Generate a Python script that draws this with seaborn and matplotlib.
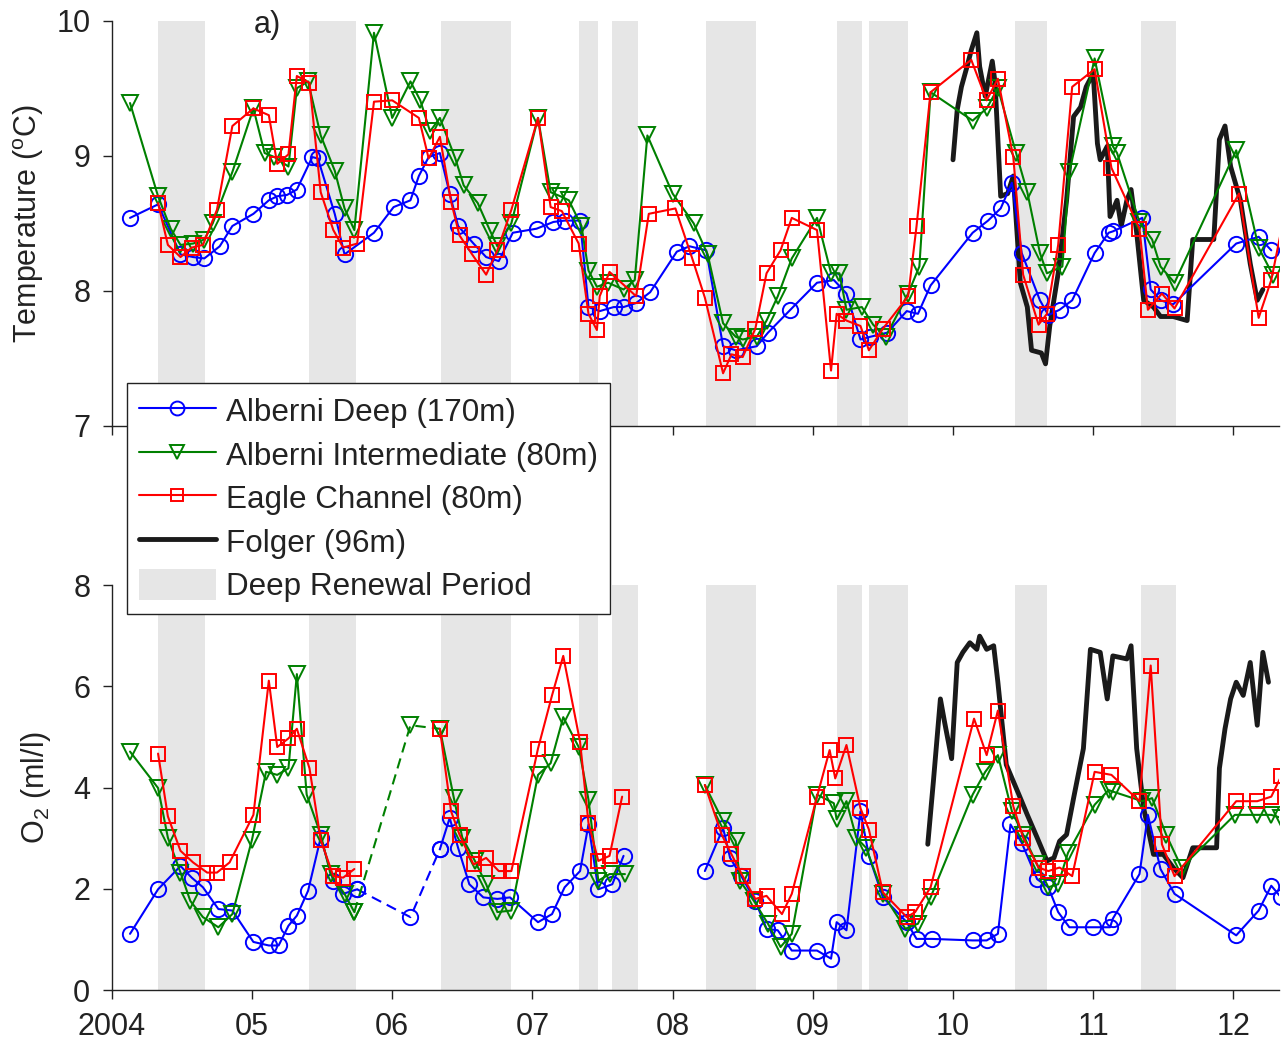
import numpy as np
import matplotlib
matplotlib.use('Agg')
import matplotlib.pyplot as plt
import seaborn as sns
from matplotlib.lines import Line2D
from matplotlib.patches import Patch

# --- 데이터 ---
# 깊은 수 교체 기간 (연도 소수)
RENEWAL_START = [2004.33, 2005.41, 2006.35, 2007.33, 2007.57, 2008.24, 2009.17, 2009.40, 2010.44, 2011.34]
RENEWAL_END = [2004.665, 2005.74, 2006.85, 2007.47, 2007.75, 2008.595, 2009.35, 2009.68, 2010.67, 2011.59]

# 수온 (top panel)
T_DEEP_YR = [2004.13, 2004.33, 2004.49, 2004.58, 2004.66, 2004.77, 2004.86,
             2005.01, 2005.12, 2005.18, 2005.25, 2005.32, 2005.43, 2005.47, 2005.59, 2005.66, 2005.87,
             2006.01, 2006.13, 2006.19, 2006.26, 2006.34, 2006.41, 2006.47, 2006.58, 2006.67, 2006.76, 2006.86,
             2007.03, 2007.15, 2007.23, 2007.34, 2007.40, 2007.48, 2007.58, 2007.65, 2007.74, 2007.84,
             2008.03, 2008.12, 2008.24, 2008.36, 2008.45, 2008.60, 2008.68, 2008.84,
             2009.03, 2009.15, 2009.24, 2009.34, 2009.41, 2009.53, 2009.67, 2009.75, 2009.84,
             2010.14, 2010.25, 2010.34, 2010.42, 2010.49, 2010.62, 2010.68, 2010.76, 2010.85,
             2011.01, 2011.11, 2011.14, 2011.35, 2011.41, 2011.48, 2011.57,
             2012.02, 2012.18, 2012.27]
T_DEEP = [8.54, 8.64, 8.27, 8.25, 8.24, 8.33, 8.48,
          8.57, 8.67, 8.70, 8.71, 8.75, 8.99, 8.98, 8.57, 8.27, 8.43,
          8.62, 8.67, 8.85, 8.99, 9.02, 8.72, 8.48, 8.35, 8.25, 8.22, 8.43,
          8.46, 8.51, 8.52, 8.52, 7.88, 7.85, 7.88, 7.88, 7.91, 7.99,
          8.29, 8.33, 8.30, 7.59, 7.56, 7.59, 7.69, 7.86,
          8.06, 8.08, 7.98, 7.64, 7.66, 7.69, 7.85, 7.83, 8.04,
          8.43, 8.52, 8.61, 8.80, 8.28, 7.93, 7.82, 7.86, 7.93,
          8.28, 8.43, 8.44, 8.54, 8.01, 7.93, 7.90,
          8.35, 8.40, 8.30]

T_INT_YR = [2004.13, 2004.33, 2004.42, 2004.49, 2004.58, 2004.66, 2004.72, 2004.86,
            2005.01, 2005.09, 2005.16, 2005.26, 2005.32, 2005.40, 2005.49, 2005.59, 2005.66, 2005.73, 2005.87,
            2006.00, 2006.13, 2006.20, 2006.27, 2006.34, 2006.45, 2006.51, 2006.61, 2006.70, 2006.75, 2006.85,
            2007.04, 2007.13, 2007.20, 2007.26, 2007.35, 2007.40, 2007.46, 2007.54, 2007.65, 2007.73, 2007.82,
            2008.00, 2008.15, 2008.25, 2008.36, 2008.45, 2008.50, 2008.60, 2008.67, 2008.75, 2008.85,
            2009.03, 2009.13, 2009.19, 2009.24, 2009.35, 2009.43, 2009.52, 2009.68, 2009.76, 2009.84,
            2010.14, 2010.24, 2010.32, 2010.45, 2010.53, 2010.62, 2010.67, 2010.78, 2010.83,
            2011.01, 2011.14, 2011.17, 2011.33, 2011.42, 2011.48, 2011.58,
            2012.02, 2012.18, 2012.28]
T_INT = [9.39, 8.70, 8.46, 8.34, 8.35, 8.38, 8.50, 8.88,
         9.35, 9.02, 8.99, 8.92, 9.50, 9.55, 9.15, 8.89, 8.61, 8.45, 9.91,
         9.28, 9.55, 9.41, 9.18, 9.28, 8.98, 8.78, 8.65, 8.44, 8.33, 8.50,
         9.28, 8.73, 8.70, 8.67, 8.48, 8.15, 8.03, 8.06, 8.01, 8.08, 9.15,
         8.72, 8.50, 8.27, 7.76, 7.66, 7.64, 7.66, 7.78, 7.96, 8.24,
         8.54, 8.13, 8.13, 7.86, 7.88, 7.75, 7.66, 7.98, 8.18, 9.47,
         9.26, 9.35, 9.50, 9.02, 8.73, 8.28, 8.13, 8.18, 8.88,
         9.72, 9.07, 9.02, 8.51, 8.38, 8.18, 8.06,
         9.04, 8.32, 8.12]

T_EAGLE_YR = [2004.33, 2004.40, 2004.49, 2004.57, 2004.65, 2004.75, 2004.86,
              2005.01, 2005.12, 2005.18, 2005.26, 2005.32, 2005.41, 2005.49, 2005.58, 2005.65, 2005.75, 2005.87,
              2006.00, 2006.19, 2006.26, 2006.34, 2006.42, 2006.48, 2006.57, 2006.67, 2006.75, 2006.85,
              2007.04, 2007.13, 2007.21, 2007.33, 2007.40, 2007.46, 2007.48, 2007.55, 2007.74, 2007.83,
              2008.02, 2008.14, 2008.23, 2008.36, 2008.42, 2008.50, 2008.59, 2008.67, 2008.77, 2008.85,
              2009.03, 2009.13, 2009.17, 2009.24, 2009.34, 2009.40, 2009.50, 2009.68, 2009.74, 2009.84,
              2010.13, 2010.24, 2010.32, 2010.43, 2010.50, 2010.61, 2010.67, 2010.75, 2010.85,
              2011.01, 2011.13, 2011.33, 2011.39, 2011.49, 2011.58,
              2012.04, 2012.18, 2012.27, 2012.40]
T_EAGLE = [8.65, 8.34, 8.25, 8.32, 8.34, 8.60, 9.22,
           9.35, 9.30, 8.94, 9.01, 9.59, 9.54, 8.73, 8.45, 8.32, 8.35, 9.40,
           9.41, 9.28, 8.98, 9.14, 8.66, 8.41, 8.27, 8.12, 8.30, 8.60,
           9.28, 8.62, 8.59, 8.35, 7.83, 7.71, 7.96, 8.14, 7.96, 8.57,
           8.61, 8.24, 7.95, 7.39, 7.53, 7.51, 7.72, 8.13, 8.30, 8.54,
           8.45, 7.41, 7.83, 7.78, 7.74, 7.56, 7.72, 7.96, 8.48, 9.47,
           9.71, 9.41, 9.57, 8.99, 8.12, 7.75, 7.83, 8.34, 9.51,
           9.64, 8.91, 8.46, 7.86, 7.98, 7.87,
           8.72, 7.80, 8.08, 8.75]

T_FOLGER_YR = [2010.00, 2010.03, 2010.06, 2010.10, 2010.13, 2010.17, 2010.19, 2010.23, 2010.28, 2010.30,
               2010.34, 2010.39, 2010.43, 2010.48, 2010.53, 2010.56, 2010.63, 2010.66, 2010.69, 2010.75,
               2010.81, 2010.86, 2010.91, 2010.95,
               2011.00, 2011.03, 2011.05, 2011.10, 2011.12, 2011.17, 2011.20, 2011.24, 2011.27, 2011.31,
               2011.36, 2011.43, 2011.48, 2011.57, 2011.67, 2011.71, 2011.86, 2011.90, 2011.94, 2011.98,
               2012.05, 2012.12, 2012.17, 2012.21]
T_FOLGER = [8.97, 9.34, 9.51, 9.66, 9.78, 9.91, 9.66, 9.44, 9.70, 9.54,
            8.70, 8.72, 8.85, 8.06, 7.88, 7.56, 7.54, 7.46, 7.74, 8.13,
            8.67, 9.29, 9.36, 9.51,
            9.61, 9.09, 8.97, 9.07, 8.55, 8.67, 8.48, 8.67, 8.75, 8.43,
            7.93, 7.88, 7.81, 7.81, 7.78, 8.38, 8.38, 9.12, 9.22, 8.92,
            8.67, 8.20, 7.93, 8.01]

# 용존 산소 (bottom panel), nan = 자료 없음
nan = np.nan
O2_DEEP_YR = [2004.13, 2004.33, 2004.49, 2004.57, 2004.65, 2004.76, 2004.86,
              2005.01, 2005.12, 2005.19, 2005.26, 2005.32, 2005.40, 2005.49, 2005.58, 2005.65, 2005.75,
              2006.13, 2006.34, 2006.41, 2006.47, 2006.55, 2006.65, 2006.75, 2006.84,
              2007.04, 2007.14, 2007.23, 2007.34, 2007.40, 2007.47, 2007.57, 2007.65, nan,
              2008.23, 2008.36, 2008.41, 2008.49, 2008.59, 2008.67, 2008.75, 2008.85,
              2009.03, 2009.13, 2009.17, 2009.24, 2009.34, 2009.40, 2009.50, 2009.67, 2009.74, 2009.85,
              2010.14, 2010.24, 2010.32, 2010.41, 2010.49, 2010.60, 2010.68, 2010.75, 2010.83,
              2011.00, 2011.12, 2011.14, 2011.33, 2011.39, 2011.48, 2011.58,
              2012.02, 2012.18, 2012.27, 2012.34]
O2_DEEP = [1.11, 1.99, 2.45, 2.22, 2.03, 1.60, 1.57,
           0.95, 0.88, 0.88, 1.27, 1.47, 1.96, 3.01, 2.16, 1.90, 1.99,
           1.44, 2.78, 3.40, 2.81, 2.09, 1.83, 1.80, 1.83,
           1.34, 1.50, 2.03, 2.35, 3.27, 1.99, 2.09, 2.65, nan,
           2.35, 3.20, 2.61, 2.25, 1.76, 1.21, 1.18, 0.78,
           0.78, 0.62, 1.34, 1.18, 3.53, 2.65, 1.83, 1.34, 1.01, 1.01,
           0.98, 0.98, 1.11, 3.27, 2.91, 2.19, 2.03, 1.54, 1.24,
           1.24, 1.24, 1.41, 2.29, 3.46, 2.39, 1.90,
           1.08, 1.57, 2.06, 1.83]

O2_INT_YR = [2004.13, 2004.33, 2004.40, 2004.49, 2004.56, 2004.65, 2004.76, 2004.86,
             2005.00, 2005.10, 2005.18, 2005.26, 2005.32, 2005.39, 2005.49, 2005.56, 2005.66, 2005.73,
             2006.13, 2006.34, 2006.44, 2006.50, 2006.59, 2006.67, 2006.75, 2006.85,
             2007.04, 2007.13, 2007.22, 2007.33, 2007.40, 2007.47, 2007.55, 2007.66, nan,
             2008.23, 2008.36, 2008.45, 2008.48, 2008.58, 2008.68, 2008.77, 2008.85,
             2009.03, 2009.15, 2009.17, 2009.24, 2009.31, 2009.38, 2009.50, 2009.66, 2009.75, 2009.84,
             2010.14, 2010.23, 2010.32, 2010.42, 2010.50, 2010.60, 2010.68, 2010.75, 2010.82,
             2011.01, 2011.11, 2011.14, 2011.35, 2011.42, 2011.52, 2011.63,
             2012.01, 2012.17, 2012.27, 2012.34]
O2_INT = [4.71, 3.99, 3.01, 2.32, 1.76, 1.44, 1.24, 1.50,
          2.97, 4.31, 4.25, 4.38, 6.24, 3.86, 3.07, 2.29, 1.90, 1.54,
          5.23, 5.16, 3.79, 3.01, 2.55, 2.09, 1.54, 1.57,
          4.25, 4.48, 5.39, 4.80, 3.76, 2.16, 2.29, 2.29, nan,
          4.05, 3.33, 2.94, 2.16, 1.76, 1.31, 0.85, 1.11,
          3.86, 3.69, 3.37, 3.73, 3.01, 2.81, 1.90, 1.21, 1.31, 1.83,
          3.86, 4.31, 4.64, 3.53, 3.07, 2.48, 2.03, 2.09, 2.71,
          3.66, 3.95, 3.92, 3.73, 3.79, 3.07, 2.42,
          3.46, 3.46, 3.46, 3.40]

O2_EAGLE_YR = [2004.33, 2004.40, 2004.49, 2004.58, 2004.68, 2004.75, 2004.84,
               2005.01, 2005.12, 2005.18, 2005.26, 2005.32, 2005.41, 2005.49, 2005.58, 2005.65, 2005.73, nan,
               2006.34, 2006.42, 2006.48, 2006.58, 2006.67, 2006.76, 2006.85,
               2007.04, 2007.14, 2007.22, 2007.34, 2007.40, 2007.47, 2007.55, 2007.64, nan,
               2008.23, 2008.35, 2008.42, 2008.50, 2008.59, 2008.67, 2008.78, 2008.85,
               2009.03, 2009.12, 2009.16, 2009.24, 2009.34, 2009.40, 2009.50, 2009.67, 2009.73, 2009.84,
               2010.15, 2010.24, 2010.32, 2010.43, 2010.50, 2010.61, 2010.68, 2010.76, 2010.85,
               2011.01, 2011.13, 2011.33, 2011.41, 2011.49, 2011.58,
               2012.02, 2012.17, 2012.27, 2012.34]
O2_EAGLE = [4.67, 3.43, 2.75, 2.52, 2.32, 2.32, 2.52,
            3.46, 6.11, 4.80, 4.97, 5.16, 4.38, 2.97, 2.25, 2.22, 2.39, nan,
            5.16, 3.53, 3.07, 2.48, 2.61, 2.35, 2.35,
            4.77, 5.82, 6.60, 4.90, 3.30, 2.55, 2.65, 3.82, nan,
            4.05, 3.07, 2.68, 2.25, 1.80, 1.86, 1.50, 1.90,
            3.82, 4.74, 4.18, 4.84, 3.59, 3.17, 1.93, 1.44, 1.54, 2.03,
            5.36, 4.64, 5.52, 3.63, 3.01, 2.42, 2.35, 2.42, 2.25,
            4.31, 4.25, 3.73, 6.41, 2.88, 2.25,
            3.73, 3.73, 3.82, 4.22]

O2_FOLGER_YR = [2009.82, 2009.86, 2009.91, 2009.94, 2009.99,
                2010.03, 2010.07, 2010.12, 2010.17, 2010.19, 2010.24, 2010.29, 2010.32, 2010.38, 2010.47,
                2010.53, 2010.60, 2010.67, 2010.72, 2010.76, 2010.81, 2010.86, 2010.93, 2010.98,
                2011.05, 2011.10, 2011.14, 2011.24, 2011.27, 2011.31, 2011.36, 2011.43, 2011.50, 2011.57,
                2011.64, 2011.71, 2011.88, 2011.90, 2011.94, 2011.98,
                2012.02, 2012.07, 2012.12, 2012.17, 2012.21, 2012.25]
O2_FOLGER = [2.88, 4.12, 5.75, 5.29, 4.57,
             6.47, 6.67, 6.86, 6.73, 6.99, 6.73, 6.80, 6.08, 4.45, 3.86,
             3.46, 3.01, 2.55, 2.61, 2.94, 3.07, 3.79, 4.77, 6.73,
             6.67, 5.75, 6.60, 6.54, 6.80, 4.77, 3.59, 2.68, 2.68, 2.42,
             2.22, 2.81, 2.81, 4.38, 5.16, 5.75,
             6.08, 5.82, 6.47, 5.23, 6.67, 6.08]

DASH_WINDOW = (2005.70, 2006.36)   # 자료 공백 구간: 점선으로 연결
YEAR_TICKS = list(range(2004, 2013))
YEAR_LABELS = ['2004', '05', '06', '07', '08', '09', '10', '11', '12']
SERIES_NAMES = ['Alberni Deep (170m)', 'Alberni Intermediate (80m)', 'Eagle Channel (80m)',
                'Folger (96m)', 'Deep Renewal Period']

# --- 스타일 ---
sns.set_theme(style='ticks')
plt.rcParams['font.family'] = ['Liberation Sans', 'DejaVu Sans']
plt.rcParams['mathtext.fontset'] = 'custom'
plt.rcParams['mathtext.rm'] = 'Liberation Sans'
plt.rcParams['mathtext.default'] = 'regular'

FS = 22
C_DEEP, C_INT, C_EAGLE = '#0000ff', '#008000', '#ff0000'
SHADE = '#e6e6e6'
INK = '#222222'
MARK = {'deep': ('o', 11), 'int': ('v', 11.5), 'eagle': ('s', 9.5)}


def draw_series(ax, t, v, color, marker, ms, dash_win=None, z=3):
    t = np.asarray(t, float)
    v = np.asarray(v, float)
    runs = []
    for i in range(len(t) - 1):
        if np.isnan(t[i]) or np.isnan(t[i + 1]):
            continue
        dashed = dash_win is not None and t[i] >= dash_win[0] and t[i + 1] <= dash_win[1]
        if runs and runs[-1][1] == dashed and runs[-1][0][-1] == i:
            runs[-1][0].append(i + 1)
        else:
            runs.append(([i, i + 1], dashed))
    for idx, dashed in runs:
        sns.lineplot(x=t[idx], y=v[idx], ax=ax, color=color, lw=1.5, sort=False,
                     estimator=None, linestyle=(0, (5, 3)) if dashed else '-',
                     marker=marker, ms=ms, mfc='none', mec=color, mew=1.4, zorder=z)


def style_axis(ax, ylim, yticks, show_x):
    ax.set_xlim(2004, 2012.325)
    ax.set_ylim(*ylim)
    ax.set_yticks(yticks)
    ax.set_xticks(YEAR_TICKS)
    ax.set_xticklabels(YEAR_LABELS if show_x else [])
    ax.tick_params(direction='out', length=6.5, width=1, pad=9, labelsize=FS,
                   colors=INK)
    for s in ['top', 'right']:
        ax.spines[s].set_visible(False)
    for s in ['left', 'bottom']:
        ax.spines[s].set_color(INK)
        ax.spines[s].set_linewidth(1)
    for a, b in zip(RENEWAL_START, RENEWAL_END):
        ax.axvspan(a, b, color=SHADE, lw=0, zorder=0)
    ax.set_xlabel('')


fig = plt.figure(figsize=(12.88, 10.52), dpi=100)
ax1 = fig.add_axes([0.0868, 0.5951, 0.9062, 0.3853])
ax2 = fig.add_axes([0.0868, 0.0589, 0.9062, 0.3850])

# 상단: 수온
ax1.plot(T_FOLGER_YR, T_FOLGER, color='k', lw=3.5, zorder=2)
draw_series(ax1, T_DEEP_YR, T_DEEP, C_DEEP, *MARK['deep'], z=3)
draw_series(ax1, T_INT_YR, T_INT, C_INT, *MARK['int'], z=4)
draw_series(ax1, T_EAGLE_YR, T_EAGLE, C_EAGLE, *MARK['eagle'], z=5)
style_axis(ax1, (7, 10), [7, 8, 9, 10], False)
ax1.set_ylabel('Temperature ($^o$C)', fontsize=FS, color=INK)
ax1.yaxis.set_label_coords(-0.056, 0.5)
ax1.text(2005.11, 9.97, 'a)', fontsize=FS, ha='center', va='center', color=INK, clip_on=False)

# 하단: 용존 산소
ax2.plot(O2_FOLGER_YR, O2_FOLGER, color='k', lw=3.5, zorder=2)
draw_series(ax2, O2_DEEP_YR, O2_DEEP, C_DEEP, *MARK['deep'], dash_win=DASH_WINDOW, z=3)
draw_series(ax2, O2_INT_YR, O2_INT, C_INT, *MARK['int'], dash_win=DASH_WINDOW, z=4)
draw_series(ax2, O2_EAGLE_YR, O2_EAGLE, C_EAGLE, *MARK['eagle'], dash_win=DASH_WINDOW, z=5)
style_axis(ax2, (0, 8), [0, 2, 4, 6, 8], True)
ax2.set_ylabel('O$_2$ (ml/l)', fontsize=FS, color=INK)
ax2.yaxis.set_label_coords(-0.05, 0.5)

# 범례
handles = [
    Line2D([], [], color=C_DEEP, lw=1.5, marker='o', ms=10, mfc='none', mec=C_DEEP, mew=1.4),
    Line2D([], [], color=C_INT, lw=1.5, marker='v', ms=10.5, mfc='none', mec=C_INT, mew=1.4),
    Line2D([], [], color=C_EAGLE, lw=1.5, marker='s', ms=9, mfc='none', mec=C_EAGLE, mew=1.4),
    Line2D([], [], color='k', lw=3.5),
    Patch(facecolor=SHADE, edgecolor='none'),
]
leg = fig.legend(handles, SERIES_NAMES, loc='upper left',
                 bbox_to_anchor=(127 / 1288, 1 - 383 / 1052), bbox_transform=fig.transFigure,
                 fontsize=22.6, frameon=True, fancybox=False, framealpha=1, edgecolor=INK,
                 handlelength=2.45, handleheight=1.15, handletextpad=0.33,
                 labelspacing=0.33, borderpad=0.38, borderaxespad=0)
leg.get_frame().set_linewidth(1)
for txt in leg.get_texts():
    txt.set_color(INK)

fig.savefig('out.png', dpi=100)
